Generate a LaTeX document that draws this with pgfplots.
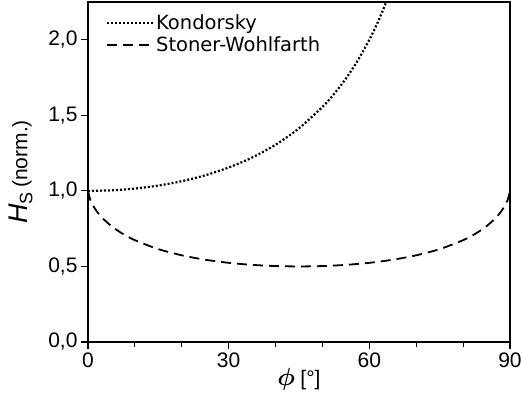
\documentclass[border=0pt]{standalone}
\usepackage{amsmath}
\usepackage{bm}
\usepackage{pgfplots}
\pgfplotsset{compat=1.18}
\usepackage{fontspec}
\setmainfont{Liberation Sans}
\newfontfamily\legfont{DejaVu Sans}
\newcommand\tfont{\fontsize{21bp}{23bp}\selectfont}
\begin{document}
\begin{tikzpicture}
\begin{axis}[
  name=ax,
  scale only axis,
  width=422bp, height=340bp,
  xmin=0, xmax=90, ymin=0, ymax=2.25,
  xtick={0,30,60,90},
  xticklabels={{\tfont 0},{\tfont 30},{\tfont 60},{\tfont 90}},
  minor xtick={10,20,40,50,70,80},
  ytick={0,0.5,1,1.5,2},
  yticklabels={{\tfont 0,0},{\tfont 0,5},{\tfont 1,0},{\tfont 1,5},{\tfont 2,0}},
  xtick pos=bottom, ytick pos=left,
  tick align=outside,
  major tick length=7bp, minor tick length=4.5bp,
  tick style={black, line width=1.2bp},
  axis line style={line width=1.3bp},
  xticklabel style={font=\tfont},
  yticklabel style={font=\tfont},
  xlabel={\fontsize{32bp}{33bp}\selectfont$\bm{\phi}$\,\fontsize{21bp}{23bp}\selectfont[°]},
  ylabel={\fontsize{27bp}{29bp}\selectfont\textit{H}\raisebox{-0.35ex}{\fontsize{18bp}{19bp}\selectfont S}\,\fontsize{21bp}{23bp}\selectfont(norm.)},
  xlabel style={yshift=6bp},
  ylabel style={yshift=9bp},
  legend style={draw=none, fill=none, at={(0.035,0.975)}, anchor=north west,
    font=\legfont\fontsize{19.5bp}{22bp}\selectfont, row sep=2bp,
    /tikz/every even column/.append style={column sep=2bp}},
  legend image code/.code={\draw[#1] (0bp,0bp) -- (46bp,0bp);},
  legend cell align=left,
  clip=true,
]
\addplot[black, line width=2.2bp, dash pattern=on 2bp off 2bp, smooth] coordinates {
(0,1.0000) (5,1.0038) (10,1.0154) (15,1.0353) (20,1.0642) (25,1.1034)
(30,1.1547) (35,1.2208) (40,1.3054) (45,1.4142) (50,1.5557) (52.5,1.6427)
(55,1.7434) (57.5,1.8612) (60,2.0000) (61,2.0627) (62,2.1301) (63,2.2027) (64,2.2812)
};
\addlegendentry{Kondorsky}
\addplot[black, line width=1.8bp, dash pattern=on 10bp off 6bp, smooth] coordinates {
(0,1.0000) (0.5,0.9397) (1,0.9071) (2,0.8593) (3,0.8227) (5,0.7664) (7.5,0.7142)
(10,0.6738) (15,0.6147) (20,0.5737) (25,0.5445) (30,0.5240) (35,0.5104)
(40,0.5026) (45,0.5000) (50,0.5026) (55,0.5104) (60,0.5240) (65,0.5445)
(70,0.5737) (75,0.6147) (80,0.6738) (82.5,0.7142) (85,0.7664) (87,0.8227)
(88,0.8593) (89,0.9071) (89.5,0.9397) (90,1.0000)
};
\addlegendentry{Stoner-Wohlfarth}
\end{axis}
\pgfresetboundingbox
\path ([xshift=-88bp,yshift=-64bp]ax.south west) rectangle ([xshift=12bp,yshift=2bp]ax.north east);
\end{tikzpicture}
\end{document}
